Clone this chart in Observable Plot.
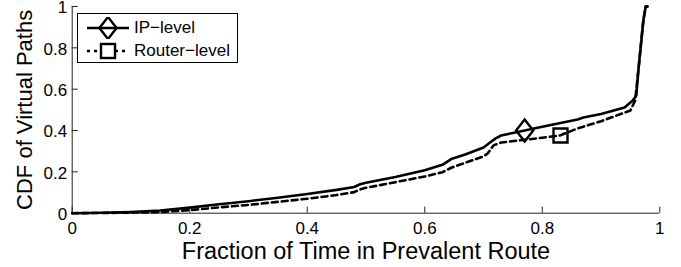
<!DOCTYPE html>
<html>
<head>
<meta charset="utf-8">
<script src="https://cdn.jsdelivr.net/npm/d3@7"></script>
<script src="https://cdn.jsdelivr.net/npm/@observablehq/plot@0.6"></script>
<style>
  html, body { margin: 0; padding: 0; background: #fff; }
  #wrap { position: relative; width: 681px; height: 267px; font-family: "Liberation Sans", Arial, sans-serif; }
  #legend { position: absolute; left: 77px; top: 13px; width: 159px; height: 48px; border: 1px solid #000; background: #fff; }
  .row { position: absolute; left: 0; height: 22px; width: 159px; }
  .row svg { position: absolute; left: 0; top: 0; }
  .row span { position: absolute; left: 56px; top: 1px; font-size: 17px; line-height: 20px; color: #000; }
</style>
</head>
<body>
<div id="wrap"></div>
<script>
// ---- data ----
const ipX = [0, 0.05, 0.1, 0.15, 0.2, 0.25, 0.3, 0.35, 0.4, 0.45, 0.48, 0.49, 0.5, 0.55, 0.6, 0.63, 0.645, 0.67, 0.7, 0.71, 0.72, 0.73, 0.77, 0.8, 0.86, 0.87, 0.9, 0.94, 0.954, 0.96, 0.964, 0.972, 0.976, 0.979];
const ipY = [0, 0.002, 0.006, 0.013, 0.027, 0.043, 0.058, 0.075, 0.093, 0.113, 0.127, 0.14, 0.147, 0.175, 0.208, 0.234, 0.262, 0.285, 0.318, 0.34, 0.361, 0.376, 0.4, 0.418, 0.453, 0.463, 0.48, 0.511, 0.545, 0.569, 0.705, 0.932, 1.0, 1.0];
const routerX = [0, 0.05, 0.1, 0.15, 0.2, 0.25, 0.3, 0.35, 0.4, 0.45, 0.48, 0.49, 0.5, 0.55, 0.6, 0.63, 0.645, 0.67, 0.7, 0.707, 0.717, 0.73, 0.8, 0.83, 0.86, 0.9, 0.95, 0.958, 0.964, 0.972, 0.976, 0.979];
const routerY = [0, 0.001, 0.003, 0.006, 0.015, 0.028, 0.04, 0.055, 0.07, 0.088, 0.102, 0.115, 0.123, 0.15, 0.178, 0.198, 0.22, 0.245, 0.275, 0.289, 0.328, 0.342, 0.365, 0.376, 0.41, 0.445, 0.497, 0.545, 0.705, 0.932, 1.0, 1.0];
const ipMarkerX = [0.77];
const ipMarkerY = [0.4];
const routerMarkerX = [0.831];
const routerMarkerY = [0.376];
const xTicks = [0, 0.2, 0.4, 0.6, 0.8, 1];
const yTicks = [0, 0.2, 0.4, 0.6, 0.8, 1];
const seriesNames = ["IP\u2212level", "Router\u2212level"];
const xLabel = "Fraction of Time in Prevalent Route";
const yLabel = "CDF of Virtual Paths";

// ---- build tables ----
const ip = ipX.map((x, i) => ({x, y: ipY[i]}));
const router = routerX.map((x, i) => ({x, y: routerY[i]}));
const ipM = ipMarkerX.map((x, i) => ({x, y: ipMarkerY[i]}));
const routerM = routerMarkerX.map((x, i) => ({x, y: routerMarkerY[i]}));

// custom symbols (MATLAB-like)
const diamondSym = { draw(ctx, size) { const r = Math.sqrt(size / Math.PI); const w = r * 0.78; ctx.moveTo(0, -r); ctx.lineTo(w, 0); ctx.lineTo(0, r); ctx.lineTo(-w, 0); ctx.closePath(); } };
const squareSym = { draw(ctx, size) { const r = Math.sqrt(size / Math.PI); ctx.rect(-r, -r, 2 * r, 2 * r); } };

const W = 681, H = 267;
const mL = 71.7, mR = 21.7, mT = 6, mB = 54.3;
const innerW = W - mL - mR, innerH = H - mT - mB;
const font = "Liberation Sans, Arial, sans-serif";

const chart = Plot.plot({
  width: W, height: H,
  marginLeft: mL, marginRight: mR, marginTop: mT, marginBottom: mB,
  style: { fontFamily: font, background: "#fff", color: "#000", overflow: "visible" },
  x: { domain: [0, 1] },
  y: { domain: [0, 1] },
  marks: [
    Plot.axisX({ ticks: xTicks, tickSize: 0, tickPadding: 9, fontSize: 17, label: null, tickFormat: d => String(d) }),
    Plot.axisY({ ticks: yTicks, tickSize: 0, tickPadding: 5, fontSize: 17, dy: 1.5, label: null, tickFormat: d => String(d) }),
    Plot.tickX(xTicks, { x: d => d, insetTop: innerH - 6, stroke: "#222", strokeWidth: 1 }),
    Plot.tickY(yTicks, { y: d => d, insetRight: innerW - 6, stroke: "#222", strokeWidth: 1 }),
    Plot.ruleX([0], { stroke: "#222", strokeWidth: 1 }),
    Plot.ruleY([0], { stroke: "#222", strokeWidth: 1 }),
    Plot.line(router, { x: "x", y: "y", stroke: "#000", strokeWidth: 2.6, strokeDasharray: "6,4" }),
    Plot.line(ip, { x: "x", y: "y", stroke: "#000", strokeWidth: 2.6 }),
    Plot.dot(ipM, { x: "x", y: "y", symbol: diamondSym, r: 11, stroke: "#000", strokeWidth: 2.4, fill: "none" }),
    Plot.dot(routerM, { x: "x", y: "y", symbol: squareSym, r: 7, stroke: "#000", strokeWidth: 2.4, fill: "none" }),
    Plot.text([xLabel], { frameAnchor: "bottom", textAnchor: "middle", dy: 46, lineAnchor: "bottom", fontSize: 23.5, fill: "#000" }),
    Plot.text([yLabel], { frameAnchor: "left", textAnchor: "middle", lineAnchor: "middle", dx: -47, rotate: -90, fontSize: 22, fill: "#000" })
  ]
});

const wrap = document.getElementById("wrap");
wrap.appendChild(chart);

// legend overlay
const legend = document.createElement("div");
legend.id = "legend";
seriesNames.forEach((name, i) => {
  const row = document.createElement("div");
  row.className = "row";
  row.style.top = (i === 0 ? 3 : 26) + "px";
  const svg = d3.create("svg").attr("width", 56).attr("height", 22);
  svg.append("line").attr("x1", 9).attr("x2", 51).attr("y1", 11).attr("y2", 11)
    .attr("stroke", "#000").attr("stroke-width", 2.6)
    .attr("stroke-dasharray", i === 1 ? "3,4" : null);
  if (i === 0) {
    svg.append("path").attr("d", "M30,0 L38.6,11 L30,22 L21.4,11 Z").attr("fill", "none").attr("stroke", "#000").attr("stroke-width", 2.4);
  } else {
    svg.append("rect").attr("x", 23).attr("y", 4).attr("width", 14).attr("height", 14).attr("fill", "#fff").attr("stroke", "#000").attr("stroke-width", 2.4);
  }
  row.appendChild(svg.node());
  const span = document.createElement("span");
  span.textContent = name;
  row.appendChild(span);
  legend.appendChild(row);
});
wrap.appendChild(legend);
</script>
</body>
</html>
